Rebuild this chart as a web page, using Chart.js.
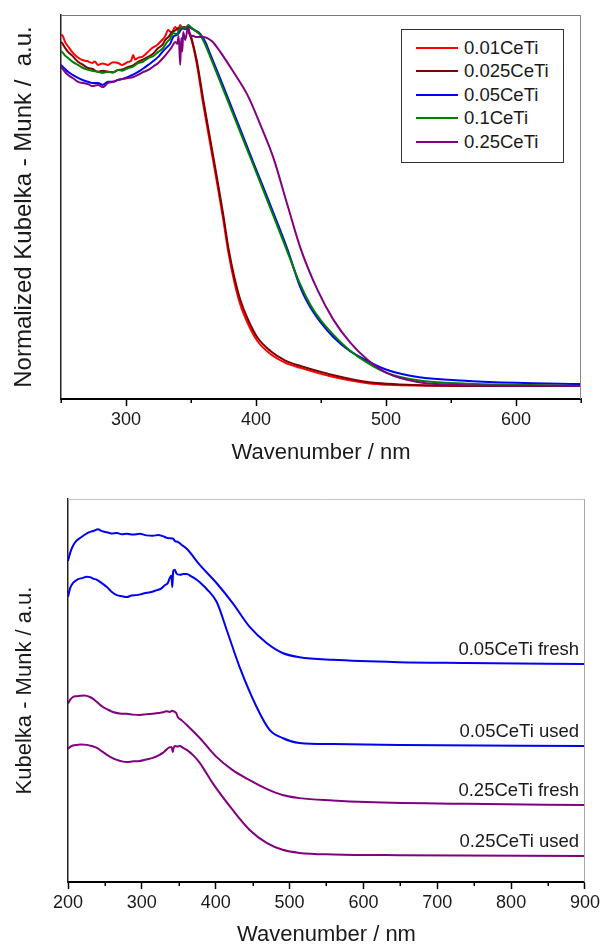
<!DOCTYPE html>
<html>
<head>
<meta charset="utf-8">
<script src="https://cdn.jsdelivr.net/npm/chart.js@4.4.0/dist/chart.umd.min.js"></script>
<style>
  html, body { margin: 0; padding: 0; background: #fff; overflow: hidden; }
  #wrap { position: relative; width: 603px; height: 944px; font-family: "Liberation Sans", Arial, sans-serif; }
  #topChart { position: absolute; left: 0; top: 0; }
  #bottomChart { position: absolute; left: 0; top: 470px; }
  #legend { position: absolute; left: 401px; top: 29px; width: 161px; height: 126px;
            border: 1px solid #333; background: #fff; padding-top: 6px; box-sizing: content-box; }
  #legend .row { height: 23.5px; display: flex; align-items: center; }
  #legend .sw { width: 42px; height: 2px; margin-left: 14px; margin-right: 6px; }
  #legend .tx { font-size: 18.5px; color: #1a1a1a; line-height: 1; }
</style>
</head>
<body>
<div id="wrap">
  <canvas id="topChart" width="603" height="470"></canvas>
  <canvas id="bottomChart" width="603" height="480"></canvas>
  <div id="legend"></div>
</div>
<script>
// ---- top panel: normalized spectra, [wavelength nm, intensity] ----
var topNames = ['0.01CeTi', '0.025CeTi', '0.05CeTi', '0.1CeTi', '0.25CeTi'];

var ce001 = [[250,0.945],[250.8,0.948],[253.1,0.930],[255.5,0.918],[258.5,0.904],[262,0.892],[266.2,0.883],[270,0.880],[273.9,0.875],[276,0.879],[278.5,0.870],[282,0.874],[286.2,0.870],[290,0.877],[293.9,0.875],[297,0.870],[301.6,0.878],[304,0.881],[305.5,0.896],[307,0.884],[309.5,0.889],[312.4,0.891],[316,0.901],[320.1,0.914],[324,0.922],[327.8,0.935],[330,0.944],[332.5,0.961],[335,0.954],[337.9,0.969],[340,0.961],[341.7,0.974],[343.5,0.964],[345.6,0.969],[347.5,0.961],[349.4,0.946],[352,0.914],[354.8,0.866],[359.4,0.768],[364.8,0.664],[370.2,0.560],[374.9,0.466],[378.7,0.383],[383.3,0.305],[388,0.245],[394.1,0.194],[401.1,0.151],[411.1,0.117],[422.6,0.094],[434.2,0.081],[457.3,0.059],[485.8,0.041],[526.7,0.035],[588.3,0.034],[650,0.034]];
var ce0025 = [[250,0.930],[250.8,0.927],[253,0.915],[255.4,0.904],[259,0.893],[263.1,0.878],[267,0.870],[270.8,0.862],[274,0.860],[278.5,0.852],[282,0.855],[286.2,0.852],[290,0.851],[293.9,0.857],[297,0.858],[301.6,0.865],[305,0.868],[309.3,0.878],[313,0.884],[317.1,0.891],[321,0.900],[324.8,0.914],[328,0.922],[330.2,0.935],[333,0.944],[335.5,0.956],[338,0.960],[340.2,0.966],[342,0.962],[344,0.969],[346,0.966],[348,0.958],[349.4,0.950],[352,0.918],[354.8,0.875],[359.4,0.780],[364.8,0.676],[370.2,0.572],[374.9,0.478],[378.7,0.395],[383.3,0.318],[388,0.258],[394.1,0.205],[401.1,0.160],[411.1,0.125],[422.6,0.100],[434.2,0.086],[457.3,0.064],[485.8,0.044],[526.7,0.036],[588.3,0.034],[650,0.034]];
var ce005 = [[250,0.870],[250.8,0.867],[253,0.860],[255.4,0.852],[259,0.844],[263.1,0.836],[267,0.830],[270.8,0.826],[274,0.823],[278.5,0.823],[282,0.818],[286.2,0.826],[290,0.826],[293.9,0.831],[297,0.833],[301.6,0.839],[305,0.844],[309.3,0.852],[313,0.860],[317.1,0.870],[321,0.880],[324.8,0.891],[328,0.904],[331.7,0.917],[334,0.925],[336.3,0.943],[339,0.948],[341,0.955],[343.3,0.966],[345.5,0.963],[347.9,0.971],[350,0.966],[353,0.960],[357.1,0.951],[361,0.930],[364.8,0.898],[372.5,0.834],[382.6,0.748],[393.4,0.655],[403.4,0.570],[413.4,0.485],[424.2,0.390],[434.2,0.290],[441.9,0.238],[449.6,0.200],[459.6,0.161],[472.7,0.124],[485.8,0.099],[500.5,0.076],[524.4,0.057],[562.9,0.047],[600,0.042],[650,0.039]];
var ce01 = [[250,0.906],[250.8,0.904],[253,0.895],[255.4,0.888],[259,0.878],[263.1,0.870],[267,0.862],[270.8,0.857],[274,0.855],[278.5,0.852],[282,0.849],[286.2,0.852],[290,0.850],[293.9,0.857],[297,0.855],[301.6,0.862],[305,0.865],[309.3,0.875],[313,0.878],[317.1,0.888],[321,0.893],[324.8,0.904],[328,0.912],[331.7,0.930],[334,0.938],[336.3,0.953],[339,0.950],[341,0.962],[343.3,0.969],[345.5,0.965],[347.9,0.974],[350,0.968],[353,0.960],[357.1,0.948],[361,0.922],[364.8,0.891],[372.5,0.826],[382.6,0.740],[393.4,0.648],[403.4,0.563],[413.4,0.477],[424.2,0.383],[434.2,0.297],[441.9,0.245],[449.6,0.206],[459.6,0.167],[472.7,0.125],[485.8,0.094],[500.5,0.068],[524.4,0.049],[562.9,0.040],[600,0.037],[650,0.034]];
var ce025 = [[250,0.864],[250.8,0.862],[253,0.852],[255.4,0.844],[259,0.836],[263.1,0.826],[267,0.823],[270.8,0.820],[274,0.815],[278.5,0.818],[282,0.812],[286.2,0.823],[290,0.826],[293.9,0.831],[297,0.833],[301.6,0.836],[305,0.838],[309.3,0.844],[313,0.851],[317.1,0.857],[321,0.866],[324.8,0.875],[328,0.886],[332.5,0.904],[335,0.915],[337.9,0.930],[339.5,0.925],[340.5,0.945],[341.7,0.870],[342.5,0.940],[343.3,0.905],[344,0.956],[345.5,0.935],[347.9,0.969],[349.4,0.945],[351.7,0.946],[353.3,0.943],[358.7,0.943],[362.5,0.940],[366.4,0.931],[372.5,0.904],[382.6,0.852],[393.4,0.792],[403.4,0.714],[413.4,0.628],[424.2,0.505],[434.2,0.393],[447.3,0.284],[459.6,0.206],[472.7,0.146],[485.8,0.102],[500.5,0.068],[524.4,0.044],[562.9,0.036],[650,0.034]];

// ---- bottom panel: fresh / used, [wavelength nm, intensity] ----
var bottomNames = ['0.05CeTi fresh', '0.05CeTi used', '0.25CeTi fresh', '0.25CeTi used'];

var fresh005 = [[200,0.838],[203,0.860],[206.8,0.878],[211,0.890],[216.2,0.898],[222,0.906],[229.7,0.914],[235,0.917],[240.5,0.921],[246,0.916],[252.7,0.913],[259,0.910],[266.2,0.911],[273,0.908],[279.7,0.909],[288,0.907],[297.3,0.909],[306,0.905],[314.9,0.904],[322,0.906],[328.4,0.903],[335,0.898],[341.9,0.897],[345,0.890],[348.6,0.888],[354,0.880],[360.8,0.870],[378.4,0.828],[401.4,0.780],[423,0.728],[446,0.666],[468.9,0.624],[490.5,0.598],[513.5,0.587],[558.1,0.580],[648.6,0.574],[739.2,0.572],[900,0.569]];
var used005 = [[200,0.745],[203,0.768],[206.8,0.781],[213,0.790],[220.3,0.794],[225,0.797],[229.7,0.796],[234,0.792],[239.2,0.789],[246,0.780],[252.7,0.770],[259,0.758],[266.2,0.749],[273,0.746],[279.7,0.744],[286,0.748],[293.2,0.749],[300,0.752],[306.8,0.755],[313,0.757],[320.3,0.762],[326,0.766],[331.1,0.775],[335,0.780],[337.8,0.794],[340,0.800],[341.2,0.770],[342.5,0.812],[344.6,0.815],[347,0.805],[351.4,0.802],[356,0.804],[360.8,0.804],[367,0.798],[374.3,0.789],[381,0.778],[387.8,0.765],[401.4,0.731],[414.9,0.658],[432.4,0.561],[455.4,0.457],[473,0.397],[490.5,0.376],[513.5,0.363],[558.1,0.360],[648.6,0.358],[900,0.355]];
var fresh025 = [[200,0.466],[203,0.476],[206.8,0.483],[211,0.485],[216.2,0.486],[222,0.487],[229.7,0.483],[234,0.478],[239.2,0.470],[247.3,0.457],[254,0.450],[260.8,0.444],[270,0.440],[279.7,0.439],[288,0.437],[297.3,0.436],[306,0.438],[314.9,0.439],[322,0.441],[328.4,0.443],[333,0.446],[337.8,0.444],[341,0.447],[344.6,0.444],[346.5,0.441],[348.6,0.431],[354,0.422],[360.8,0.410],[378.4,0.376],[401.4,0.326],[423,0.292],[446,0.266],[468.9,0.243],[490.5,0.227],[513.5,0.219],[558.1,0.213],[604,0.209],[739.2,0.204],[900,0.201]];
var used025 = [[200,0.348],[204,0.354],[208,0.357],[212.2,0.358],[218,0.359],[225.7,0.358],[232,0.355],[239.2,0.350],[246,0.341],[252.7,0.332],[259,0.325],[266.2,0.319],[273,0.315],[279.7,0.313],[288,0.315],[297.3,0.316],[306,0.320],[314.9,0.324],[322,0.330],[328.4,0.337],[333,0.345],[337.8,0.352],[340.5,0.352],[341.9,0.339],[343,0.350],[344.6,0.355],[348,0.354],[351.4,0.355],[356,0.350],[360.8,0.345],[370,0.330],[378.4,0.311],[395.9,0.258],[423,0.188],[446,0.136],[468.9,0.102],[490.5,0.084],[513.5,0.076],[560,0.072],[648.6,0.070],[900,0.068]];

var FONT = '"Liberation Sans", Arial, sans-serif';
var INK = '#1a1a1a';

function xy(pairs) {
    return pairs.map(function(p) { return {x: p[0], y: p[1]}; });
}

function line(label, pairs, color, order) {
    return {
        label: label,
        data: xy(pairs),
        borderColor: color,
        backgroundColor: color,
        borderWidth: 2,
        pointRadius: 0,
        fill: false,
        cubicInterpolationMode: 'monotone',
        order: order
    };
}

// grey top / right frame of the plot box
var framePlugin = {
    id: 'frame',
    afterDraw: function(chart, args, opts) {
        var a = chart.chartArea, c = chart.ctx;
        c.save();
        c.lineWidth = 1;
        c.strokeStyle = opts.top;
        c.beginPath(); c.moveTo(a.left, a.top + 0.5); c.lineTo(a.right, a.top + 0.5); c.stroke();
        c.strokeStyle = opts.right;
        c.beginPath(); c.moveTo(a.right - 0.5, a.top); c.lineTo(a.right - 0.5, a.bottom); c.stroke();
        c.restore();
    }
};

// short ticks at the 50s
var minorTicks = {
    id: 'minorTicks',
    afterDraw: function(chart) {
        var sx = chart.scales.x, c = chart.ctx;
        c.save();
        c.strokeStyle = '#000';
        c.lineWidth = 1.5;
        sx.ticks.forEach(function(t) {
            if (t.value % 100 !== 0) {
                var px = Math.round(sx.getPixelForValue(t.value)) + 0.25;
                c.beginPath(); c.moveTo(px, sx.top); c.lineTo(px, sx.top + 4); c.stroke();
            }
        });
        c.restore();
    }
};

// sample names written just above the flat end of each curve
var endLabels = {
    id: 'endLabels',
    afterDatasetsDraw: function(chart, args, opts) {
        var c = chart.ctx, sx = chart.scales.x, sy = chart.scales.y;
        c.save();
        c.font = '18.5px ' + FONT;
        c.fillStyle = INK;
        c.textAlign = 'right';
        c.textBaseline = 'alphabetic';
        chart.data.datasets.forEach(function(ds) {
            var last = ds.data[ds.data.length - 1];
            c.fillText(ds.label, sx.getPixelForValue(opts.at), sy.getPixelForValue(last.y) - 9);
        });
        c.restore();
    }
};

function xAxis(min, max, height, titleBottom) {
    return {
        type: 'linear',
        min: min,
        max: max,
        afterFit: function(s) { s.height = height; },
        ticks: {
            stepSize: 50,
            autoSkip: false,
            maxRotation: 0,
            padding: 3,
            color: INK,
            font: {size: 18, family: FONT},
            callback: function(v) { return v % 100 === 0 ? v : ''; }
        },
        grid: {
            drawOnChartArea: false,
            tickLength: 7,
            tickWidth: 1.5,
            tickColor: function(ctx) { return ctx.tick && ctx.tick.value % 100 === 0 ? '#000' : 'rgba(0,0,0,0)'; }
        },
        border: {color: '#000', width: 2},
        title: {
            display: true,
            text: 'Wavenumber / nm',
            color: INK,
            font: {size: 22, family: FONT},
            padding: {top: 0, bottom: titleBottom}
        }
    };
}

function yAxis(width, text, size, pad) {
    return {
        min: 0,
        max: 1,
        afterFit: function(s) { s.width = width; },
        ticks: {display: false},
        grid: {display: false, drawTicks: false},
        border: {color: '#222', width: 1.5},
        title: {
            display: true,
            text: text,
            color: INK,
            font: {size: size, family: FONT},
            padding: {top: pad, bottom: 0}
        }
    };
}

var topChart = new Chart(document.getElementById('topChart'), {
    type: 'line',
    data: {
        datasets: [
            line(topNames[0], ce001, '#ff0000', 5),
            line(topNames[1], ce0025, '#800000', 4),
            line(topNames[2], ce005, '#0000ff', 3),
            line(topNames[3], ce01, '#008000', 2),
            line(topNames[4], ce025, '#800080', 1)
        ]
    },
    options: {
        responsive: false,
        animation: false,
        devicePixelRatio: 1,
        layout: {padding: {top: 15, right: 22, left: 0, bottom: 0}},
        plugins: {
            legend: {display: false},
            tooltip: {enabled: false},
            frame: {top: '#777', right: '#888'}
        },
        scales: {
            x: xAxis(250, 650, 71, 4),
            y: yAxis(61, 'Normalized Kubelka - Munk /  a.u.', 24, 10)
        }
    },
    plugins: [framePlugin, minorTicks]
});

var bottomChart = new Chart(document.getElementById('bottomChart'), {
    type: 'line',
    data: {
        datasets: [
            line(bottomNames[0], fresh005, '#0000ee', 1),
            line(bottomNames[1], used005, '#0000ee', 2),
            line(bottomNames[2], fresh025, '#800080', 3),
            line(bottomNames[3], used025, '#800080', 4)
        ]
    },
    options: {
        responsive: false,
        animation: false,
        devicePixelRatio: 1,
        layout: {padding: {top: 29, right: 17, left: 0, bottom: 0}},
        plugins: {
            legend: {display: false},
            tooltip: {enabled: false},
            frame: {top: '#c4c4c4', right: '#a8a8a8'},
            endLabels: {at: 892}
        },
        scales: {
            x: xAxis(200, 900, 68, 2),
            y: yAxis(68, 'Kubelka - Munk / a.u.', 22, 12)
        }
    },
    plugins: [framePlugin, minorTicks, endLabels]
});

// legend box of the top panel, built from its datasets
var box = document.getElementById('legend');
topChart.data.datasets.forEach(function(ds) {
    var row = document.createElement('div');
    row.className = 'row';
    var sw = document.createElement('div');
    sw.className = 'sw';
    sw.style.background = ds.borderColor;
    var tx = document.createElement('span');
    tx.className = 'tx';
    tx.textContent = ds.label;
    row.appendChild(sw);
    row.appendChild(tx);
    box.appendChild(row);
});
</script>
</body>
</html>
